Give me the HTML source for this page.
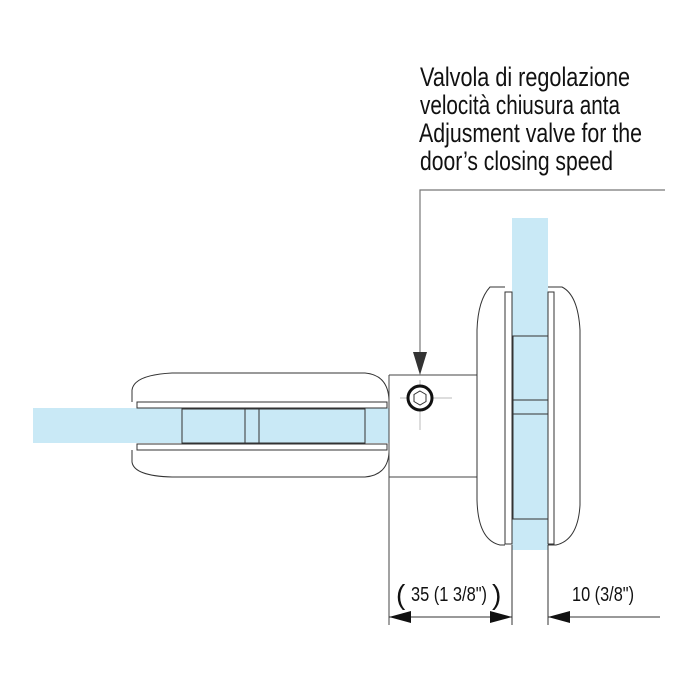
<!DOCTYPE html>
<html><head><meta charset="utf-8"><style>html,body{margin:0;padding:0;background:#fff}svg{display:block}</style></head>
<body>
<svg width="700" height="700" viewBox="0 0 700 700" xmlns="http://www.w3.org/2000/svg">
<g font-family="Liberation Sans, Arial, sans-serif" fill="#111" font-size="27">
<text x="420" y="86" textLength="210" lengthAdjust="spacingAndGlyphs">Valvola di regolazione</text>
<text x="420" y="114" textLength="200" lengthAdjust="spacingAndGlyphs">velocità chiusura anta</text>
<text x="419" y="142" textLength="223" lengthAdjust="spacingAndGlyphs">Adjusment valve for the</text>
<text x="420" y="170" textLength="193" lengthAdjust="spacingAndGlyphs">door’s closing speed</text>
</g>
<polyline points="665,190 420,190 420,352" fill="none" stroke="#777" stroke-width="1.2"/>
<polygon points="413,352 427,352 420,375" fill="#333"/>
<rect x="33" y="408" width="356" height="35" fill="#c9e9f6"/>
<g fill="none" stroke="#333" stroke-width="1">
<path d="M132,402 L132,390 Q134,375 172,373 L365,373 Q388,375 389,400"/>
<path d="M132,450 L132,462 Q134,476 172,477 L365,477 Q388,475 389,452"/>
<rect x="137" y="402" width="250" height="6"/>
<rect x="137" y="444" width="250" height="6"/>
<rect x="182" y="409" width="183" height="34"/>
<line x1="245" y1="409" x2="245" y2="443"/>
<line x1="259" y1="409" x2="259" y2="443"/>
</g>
<g fill="none" stroke="#444" stroke-width="1">
<line x1="389" y1="375" x2="477" y2="375"/>
<line x1="389" y1="477" x2="477" y2="477"/>
<line x1="389" y1="375" x2="389" y2="625"/>
<line x1="477" y1="375" x2="477" y2="477"/>
<line x1="400" y1="398" x2="452" y2="398" stroke="#bbb"/>
<line x1="420" y1="380" x2="420" y2="430" stroke="#bbb"/>
</g>
<circle cx="420" cy="398" r="12" fill="#fff" stroke="#111" stroke-width="3"/>
<polygon points="420,391 426,394.5 426,401.5 420,405 414,401.5 414,394.5" fill="none" stroke="#333"/>
<rect x="512" y="218" width="36" height="332" fill="#c9e9f6"/>
<g fill="none" stroke="#333" stroke-width="1">
<path d="M505,287 L490,287 Q478,300 477,330 L477,500 Q478,540 500,545 L505,545"/>
<path d="M548,287 L562,287 Q578,295 580,330 L580,505 Q578,540 556,545 L548,545"/>
<rect x="505" y="292" width="7" height="252"/>
<rect x="548" y="292" width="6" height="252"/>
<rect x="513" y="336" width="35" height="183"/>
<line x1="513" y1="400" x2="548" y2="400"/>
<line x1="513" y1="414" x2="548" y2="414"/>
<line x1="512" y1="545" x2="512" y2="625"/>
<line x1="548" y1="545" x2="548" y2="625"/>
</g>
<g stroke="#333" stroke-width="1">
<line x1="389" y1="617" x2="512" y2="617"/>
<line x1="548" y1="617" x2="660" y2="617"/>
</g>
<polygon points="389,617 411,611 411,623" fill="#111"/>
<polygon points="512,617 490,611 490,623" fill="#111"/>
<polygon points="548,617 570,611 570,623" fill="#111"/>
<g font-family="Liberation Sans, Arial, sans-serif" fill="#111">
<text x="396" y="604" font-size="28">(</text>
<text x="411" y="601" font-size="20" textLength="76" lengthAdjust="spacingAndGlyphs">35 (1  3/8")</text>
<text x="492" y="604" font-size="28">)</text>
<text x="572" y="601" font-size="20" textLength="62" lengthAdjust="spacingAndGlyphs">10 (3/8")</text>
</g>
</svg>
</body></html>
